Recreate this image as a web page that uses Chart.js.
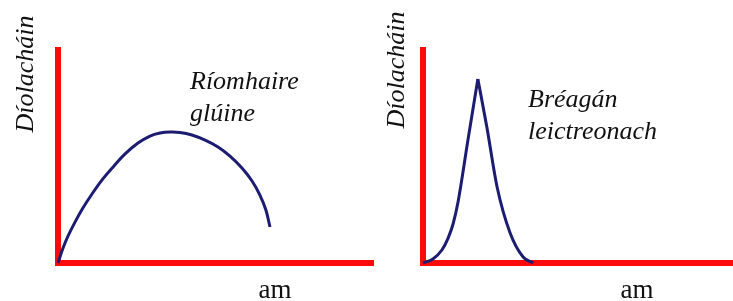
<!DOCTYPE html>
<html>
<head>
<meta charset="utf-8">
<script src="https://cdn.jsdelivr.net/npm/chart.js@4/dist/chart.umd.min.js"></script>
<style>
  html, body { margin: 0; padding: 0; background: #fff; }
  #wrap { position: relative; width: 733px; height: 301px; overflow: hidden; }
  #c1 { position: absolute; left: 0; top: 0; }
  #c2 { position: absolute; left: 380px; top: 0; }
</style>
</head>
<body>
<div id="wrap">
  <canvas id="c1" width="380" height="301"></canvas>
  <canvas id="c2" width="353" height="301"></canvas>
</div>
<script>
// Time (arbitrary units) and sales values
const laptopTime  = [0, 0.16, 0.32, 0.54, 0.79, 1.08, 1.40, 1.75, 2.13, 2.54, 2.92, 3.24, 3.56, 3.87, 4.25, 4.67, 5.08, 5.46, 5.84, 6.16, 6.41, 6.60, 6.73];
const laptopSales = [0, 0.70, 1.27, 1.92, 2.58, 3.24, 3.90, 4.51, 5.12, 5.63, 5.96, 6.10, 6.15, 6.13, 6.01, 5.77, 5.45, 5.02, 4.46, 3.85, 3.19, 2.49, 1.69];

const toyRiseTime  = [0, 0.32, 0.61, 0.81, 0.97, 1.13, 1.45, 1.77];
const toyRiseSales = [0, 0.19, 0.61, 1.17, 1.83, 2.86, 5.77, 8.64];
const toyFallTime  = [1.77, 2.06, 2.39, 2.81, 3.23, 3.55];
const toyFallSales = [8.64, 6.38, 3.57, 1.41, 0.28, 0];

const yTitle = 'Díolacháin';
const xTitle = 'am';
const laptopLabel = ['Ríomhaire', 'glúine'];
const toyLabel = ['Bréagán', 'leictreonach'];

const RED = '#ff0a0a';
const NAVY = '#1c1c72';

function pts(xs, ys) { return xs.map((x, i) => ({x: x, y: ys[i]})); }

function lineDs(data, mode) {
  return {
    data: data,
    borderColor: NAVY,
    borderWidth: 3,
    pointRadius: 0,
    fill: false,
    tension: 0.4,
    cubicInterpolationMode: mode || 'default',
    clip: false
  };
}

function scales(xMax) {
  return {
    x: {
      type: 'linear', min: 0, max: xMax,
      grid: { display: false, drawTicks: false },
      ticks: { display: false },
      border: { display: true, color: RED, width: 6 },
      afterFit: s => { s.height = 0; }
    },
    y: {
      type: 'linear', min: 0, max: 10,
      grid: { display: false, drawTicks: false },
      ticks: { display: false },
      border: { display: true, color: RED, width: 6 },
      afterFit: s => { s.width = 0; }
    }
  };
}

function textPlugin(cfg) {
  return {
    id: 'labels',
    afterDraw(chart) {
      const ctx = chart.ctx;
      ctx.save();
      ctx.fillStyle = '#111';
      ctx.save();
      ctx.translate(cfg.yx, cfg.yy);
      ctx.rotate(-Math.PI / 2);
      ctx.font = 'italic 26px "Liberation Serif", "Times New Roman", serif';
      ctx.textAlign = 'center';
      ctx.textBaseline = 'alphabetic';
      ctx.fillText(yTitle, 0, 0);
      ctx.restore();
      ctx.font = '27px "Liberation Serif", "Times New Roman", serif';
      ctx.textAlign = 'center';
      ctx.textBaseline = 'alphabetic';
      ctx.fillText(xTitle, cfg.xx, cfg.xy);
      ctx.font = 'italic 26px "Liberation Serif", "Times New Roman", serif';
      ctx.textAlign = 'left';
      cfg.lines.forEach((t, i) => ctx.fillText(t, cfg.lx, cfg.ly[i]));
      ctx.restore();
    }
  };
}

Chart.defaults.animation = false;

new Chart(document.getElementById('c1'), {
  type: 'line',
  data: { datasets: [lineDs(pts(laptopTime, laptopSales))] },
  options: {
    responsive: false,
    animation: false,
    layout: { padding: { left: 58, right: 7, top: 50, bottom: 38 } },
    plugins: { legend: { display: false }, tooltip: { enabled: false } },
    scales: scales(10)
  },
  plugins: [textPlugin({ yx: 33, yy: 74, xx: 275, xy: 298, lines: laptopLabel, lx: 190, ly: [89, 121] })]
});

new Chart(document.getElementById('c2'), {
  type: 'line',
  data: { datasets: [lineDs(pts(toyRiseTime, toyRiseSales), 'monotone'), lineDs(pts(toyFallTime, toyFallSales), 'monotone')] },
  options: {
    responsive: false,
    animation: false,
    layout: { padding: { left: 43, right: 0, top: 50, bottom: 38 } },
    plugins: { legend: { display: false }, tooltip: { enabled: false } },
    scales: scales(10)
  },
  plugins: [textPlugin({ yx: 24, yy: 70, xx: 257, xy: 298, lines: toyLabel, lx: 148, ly: [107, 139] })]
});
</script>
</body>
</html>
